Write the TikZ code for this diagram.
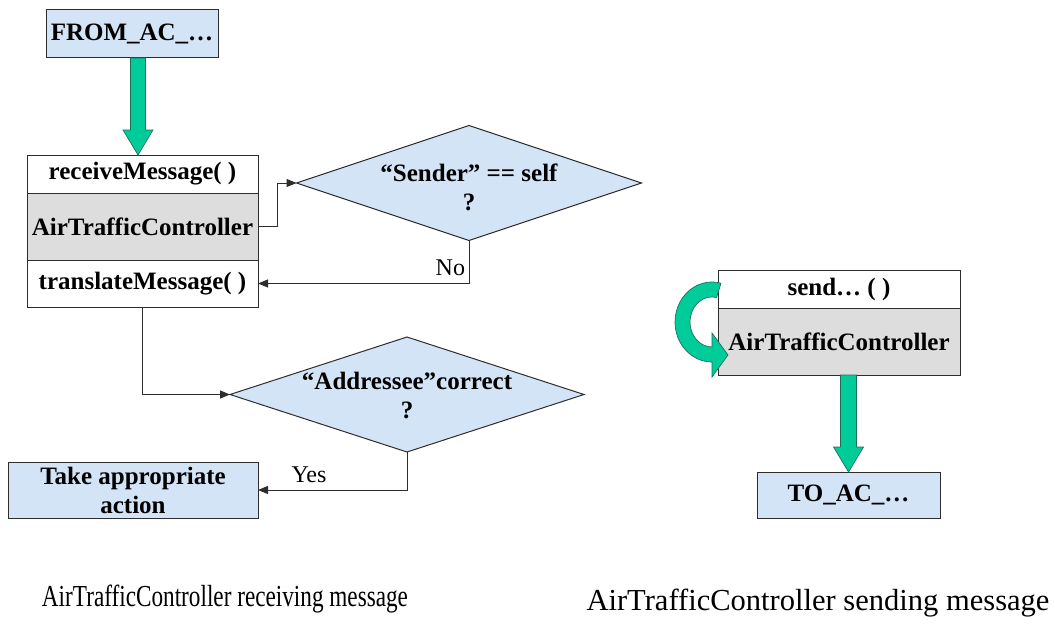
\documentclass[tikz,border=0pt]{standalone}
\usepackage{fontspec}
\setmainfont{Liberation Serif}
\usepackage{graphicx}
\usetikzlibrary{shapes.geometric,arrows.meta,calc}
\definecolor{boxblue}{RGB}{212,228,247}
\definecolor{boxgray}{RGB}{221,221,221}
\definecolor{flowgreen}{RGB}{0,204,153}
\definecolor{linegray}{RGB}{45,45,45}

\begin{document}
\begin{tikzpicture}[x=0.75pt,y=-0.75pt,
  every node/.style={inner sep=0pt, outer sep=0pt},
  btxt/.style={font=\fontsize{18.75}{21.75}\selectfont\bfseries},
  bluebox/.style={draw=linegray, line width=0.75pt, fill=boxblue, btxt, align=center},
  methbox/.style={draw=linegray, line width=0.75pt, fill=white, btxt},
  classbox/.style={draw=linegray, line width=0.75pt, fill=boxgray, btxt},
  decision/.style={diamond, draw=linegray, line width=0.75pt, fill=boxblue},
  dtxt/.style={btxt, align=center},
  flow/.style={draw=linegray, line width=0.75pt, -{Triangle[length=7.5pt,width=6pt]}},
  lbl/.style={font=\fontsize{18}{21}\selectfont},
  captext/.style={font=\fontsize{22.9}{26}\selectfont},
  fat/.style={draw=linegray!60!flowgreen, line width=0.5pt, fill=flowgreen, line join=miter}
]
\useasboundingbox (0,0) rectangle (1055,635);

% ---------- receiving side ----------
\node[bluebox, minimum width=129pt, minimum height=36pt] (from) at (132,34) {FROM\_AC\_…};

\node[methbox, minimum width=173.25pt, minimum height=28.5pt] (recv) at (142.5,174) {receiveMessage( )};
\node[classbox, minimum width=173.25pt, minimum height=50.25pt, anchor=north] (atc1) at (recv.south) {AirTrafficController};
\node[methbox, minimum width=173.25pt, minimum height=35.25pt, anchor=north] (trans) at (atc1.south) {translateMessage( )};

\node[decision, minimum width=258.75pt, minimum height=86.25pt] (d1) at (469,183) {};
\node[dtxt] (d1t) at (469,187) {“Sender” == self\\?};

\node[decision, minimum width=265.5pt, minimum height=86.25pt] (d2) at (407,394.5) {};
\node[dtxt] (d2t) at (407,395) {“Addressee”correct\\?};

\node[bluebox, minimum width=187.5pt, minimum height=42pt] (take) at (133,490) {Take appropriate\\action};

% fat arrow into the receiver
\path (from.south) ++(6,0) coordinate (a1s);
\path (recv.north) ++(-4.5,0) coordinate (a1e);
\draw[fat] ($(a1s)+(-7.5,0)$) -- ($(a1e)+(-7.5,-25)$) -- ($(a1e)+(-15,-25)$) -- (a1e)
  -- ($(a1e)+(15,-25)$) -- ($(a1e)+(7.5,-25)$) -- ($(a1s)+(7.5,0)$) -- cycle;

% decision flow
\draw[flow] (atc1.east) -- ++(19,0) |- (d1.west);
\draw[flow] (d1.south) |- (trans.east);
\node[lbl, anchor=east] (no) at (465,268) {No};
\draw[flow] (trans.south) |- (d2.west);
\draw[flow] (d2.south) |- (take.east);
\node[lbl] (yes) at (309,475) {Yes};

% ---------- sending side ----------
\node[methbox, minimum width=181.5pt, minimum height=28.5pt] (send) at (839,289) {send… ( )};
\node[classbox, minimum width=181.5pt, minimum height=50.25pt, anchor=north] (atc2) at (send.south) {AirTrafficController};
\node[bluebox, minimum width=137.25pt, minimum height=34.5pt] (to) at (848.5,495) {TO\_AC\_…};

% self call loop
\draw[fat] (716.6,297.5) arc[start angle=-78, end angle=-270, x radius=22, y radius=25]
  -- (712,333) -- (728,355) -- (712,377) -- (712,362)
  arc[start angle=-270, end angle=-76, x radius=37, y radius=40] -- cycle;

% fat arrow out of the sender
\coordinate (a2s) at (atc2.south -| to.north);
\coordinate (a2e) at (to.north);
\draw[fat] ($(a2s)+(-8,0)$) -- ($(a2e)+(-8,-25)$) -- ($(a2e)+(-15,-25)$) -- (a2e)
  -- ($(a2e)+(15,-25)$) -- ($(a2e)+(8,-25)$) -- ($(a2s)+(8,0)$) -- cycle;

% ---------- captions ----------
\node[captext, anchor=base] (capL) at (225,606) {\scalebox{0.76}[1]{AirTrafficController receiving message}};
\node[captext, anchor=base] (capR) at (818,610) {AirTrafficController sending message};
\end{tikzpicture}
\end{document}
